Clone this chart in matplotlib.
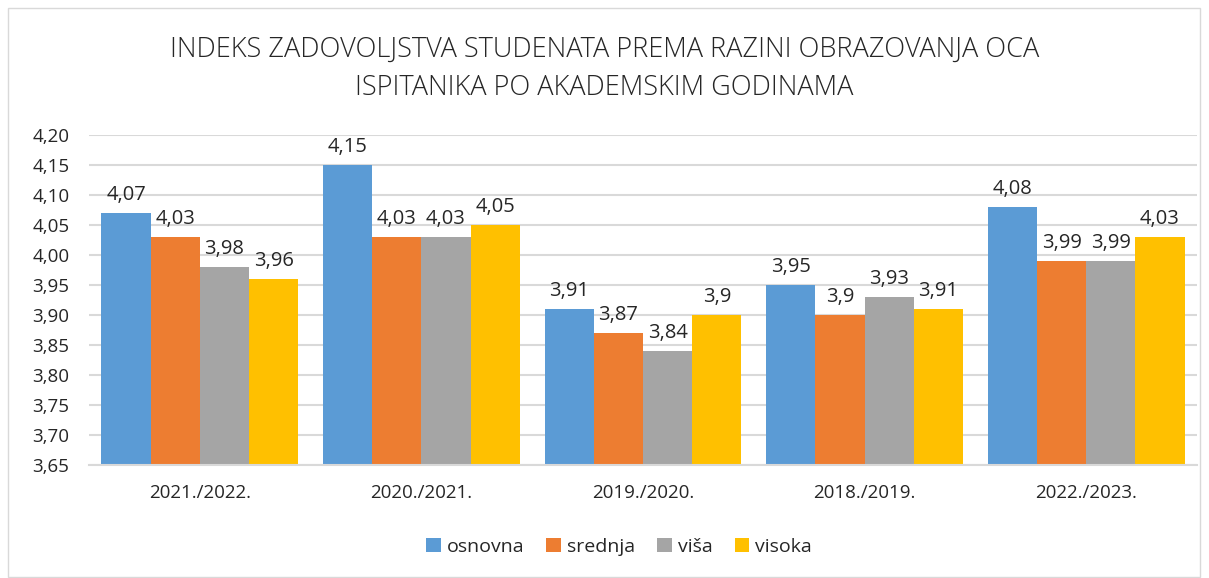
import numpy as np
import matplotlib.pyplot as plt
from matplotlib.patches import Rectangle

plt.rcParams['font.family'] = ['Open Sans', 'DejaVu Sans']

godine = ['2021./2022.', '2020./2021.', '2019./2020.', '2018./2019.', '2022./2023.']
osnovna = [4.07, 4.15, 3.91, 3.95, 4.08]
srednja = [4.03, 4.03, 3.87, 3.90, 3.99]
visa = [3.98, 4.03, 3.84, 3.93, 3.99]
visoka = [3.96, 4.05, 3.90, 3.91, 4.03]

serije = [('osnovna', osnovna, '#5b9bd5'),
          ('srednja', srednja, '#ed7d31'),
          ('viša', visa, '#a5a5a5'),
          ('visoka', visoka, '#ffc000')]

fig = plt.figure(figsize=(12.09, 5.78), dpi=100)
# tanki okvir oko cijelog grafikona
fig.patches.append(Rectangle((8 / 1209, 0.002), 1192 / 1209, 1 - 8 / 578 - 0.002,
                             transform=fig.transFigure, fill=False,
                             edgecolor='#d9d9d9', linewidth=1))
ax = fig.add_axes([89 / 1209, 1 - 465 / 578, (1197 - 89) / 1209, (465 - 135) / 578])

x = np.arange(len(godine))
w = 0.222
for i, (ime, vals, boja) in enumerate(serije):
    pos = x + (i - 1.5) * w
    bars = ax.bar(pos, vals, w, color=boja, label=ime)
    for b, v in zip(bars, vals):
        txt = ('%g' % v).replace('.', ',')
        ax.annotate(txt, (b.get_x() + b.get_width() / 2, v), xytext=(0, 6),
                    textcoords='offset points', ha='center', va='bottom',
                    fontsize=14.5, color='#262626')

ax.set_ylim(3.65, 4.20)
ax.set_xlim(-0.5, len(godine) - 0.5)
yt = np.arange(3.65, 4.2001, 0.05)
ax.set_yticks(yt)
ax.set_yticklabels([('%.2f' % t).replace('.', ',') for t in yt])
ax.set_xticks(x)
ax.set_xticklabels(godine)
ax.tick_params(axis='both', length=0, labelsize=13.5, colors='#262626')
ax.tick_params(axis='y', pad=14)
ax.tick_params(axis='x', pad=14)
ax.grid(axis='y', color='#d9d9d9', linewidth=1.5)
ax.set_axisbelow(True)
for s in ['top', 'right', 'left']:
    ax.spines[s].set_visible(False)
ax.spines['bottom'].set_color('#d9d9d9')
ax.spines['bottom'].set_linewidth(1.5)

fig.text(0.5, 1 - 69 / 578, 'INDEKS ZADOVOLJSTVA STUDENATA PREMA RAZINI OBRAZOVANJA OCA\nISPITANIKA PO AKADEMSKIM GODINAMA',
         ha='center', va='center', fontsize=19.5, color='#262626', weight='light',
         linespacing=1.5)

fig.legend(loc='center', bbox_to_anchor=(0.512, 1 - 547 / 578), ncol=4, frameon=False,
           fontsize=14, handlelength=0.75, handleheight=0.75, handletextpad=0.3,
           columnspacing=1.15, labelcolor='#262626')

fig.savefig('out.png', dpi=100)
